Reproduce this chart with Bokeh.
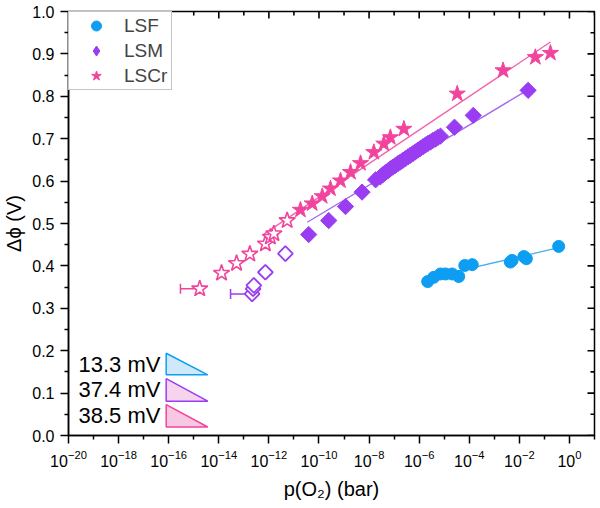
import numpy as np
from bokeh.plotting import figure
from bokeh.models import (ColumnDataSource, FixedTicker, Legend, LegendItem,
                          Label, Whisker, TeeHead, PrintfTickFormatter, Range1d)
from bokeh.embed import file_html
from bokeh.resources import INLINE

# ---------------- data (log10 of pO2 in bar, potential difference in V) ----------------
lsf_logp = [-5.66, -5.42, -5.15, -4.95, -4.68, -4.42, -4.18, -3.88, -2.36, -2.29, -1.82, -1.72, -0.43]
lsf_dphi = [0.363, 0.373, 0.381, 0.381, 0.381, 0.375, 0.401, 0.403, 0.409, 0.413, 0.422, 0.417, 0.446]

lsm_open_logp = [-12.67, -12.63, -12.60, -12.14, -11.34]
lsm_open_dphi = [0.334, 0.346, 0.354, 0.385, 0.429]
lsm_logp = [-10.41, -9.61, -8.94, -8.28, -7.74,
            -7.55, -7.45, -7.35, -7.25, -7.15, -7.05, -6.95, -6.85, -6.75, -6.65,
            -6.55, -6.45, -6.35, -6.25, -6.15, -6.05, -5.95, -5.85, -5.75, -5.65,
            -5.55, -5.45, -5.35, -5.25, -5.15,
            -4.59, -3.84, -1.65]
lsm_dphi = [0.474, 0.507, 0.540, 0.574, 0.603,
            0.610, 0.615, 0.620, 0.624, 0.629, 0.633, 0.637, 0.641, 0.645, 0.649,
            0.653, 0.657, 0.661, 0.665, 0.669, 0.673, 0.677, 0.681, 0.685, 0.689,
            0.692, 0.696, 0.699, 0.703, 0.706,
            0.727, 0.755, 0.814]

lscr_open_logp = [-14.76, -13.89, -13.29, -12.76, -12.14, -11.94, -11.80, -11.27]
lscr_open_dphi = [0.346, 0.383, 0.406, 0.428, 0.452, 0.468, 0.476, 0.507]
lscr_logp = [-10.74, -10.27, -9.87, -9.54, -9.14, -8.74, -8.34, -7.81, -7.41, -7.15, -6.61,
             -4.48, -2.65, -1.36, -0.76]
lscr_dphi = [0.532, 0.547, 0.564, 0.582, 0.601, 0.621, 0.642, 0.668, 0.688, 0.703, 0.723,
             0.806, 0.861, 0.892, 0.902]

# fitted lines (end points)
lsf_fit_logp = [-5.66, -0.43]
lsf_fit_dphi = [0.371, 0.443]
lsm_fit_logp = [-10.47, -1.69]
lsm_fit_dphi = [0.503, 0.814]
lscr_fit_logp = [-12.2, -0.76]
lscr_fit_dphi = [0.475, 0.928]

# left-side x error bars (log10 of the lower end)
lscr_err_low = -15.53
lsm_err_low = -13.53

series_names = ["LSF", "LSM", "LSCr"]
slope_mV = [13.3, 37.4, 38.5]

x_min_exp, x_max_exp = -20, 1
x_major_exp = list(range(-20, 1, 2))
x_minor_exp = list(range(-19, 2, 2))
y_major = [0.0, 0.1, 0.2, 0.3, 0.4, 0.5, 0.6, 0.7, 0.8, 0.9, 1.0]
y_minor = [0.05, 0.15, 0.25, 0.35, 0.45, 0.55, 0.65, 0.75, 0.85, 0.95]

# ---------------- style ----------------
FONT = "Liberation Sans"
BLUE = "#0d9ef3"
PURPLE = "#9a3df2"
PINK = "#f2449d"
BLUE_L = "#45b2f2"
PURPLE_L = "#a566f0"
PINK_L = "#f462ad"

x_lo, x_hi = 10.0 ** x_min_exp, 10.0 ** x_max_exp
p = figure(width=600, height=508, x_axis_type="log",
           x_range=Range1d(x_lo, x_hi), y_range=Range1d(0, 1),
           output_backend="svg", toolbar_location=None,
           min_border_left=68, min_border_right=6, min_border_top=11, min_border_bottom=73)
p.xgrid.visible = False
p.ygrid.visible = False
p.outline_line_color = "black"
p.outline_line_width = 1.5
p.background_fill_color = "white"
p.border_fill_color = "white"

x_ticks = [10.0 ** k for k in x_major_exp]
x_mticks = [10.0 ** k for k in x_minor_exp]
xt = FixedTicker(ticks=x_ticks, minor_ticks=x_mticks)
yt = FixedTicker(ticks=y_major, minor_ticks=y_minor)

for ax in p.xaxis:
    ax.ticker = xt
    ax.axis_label = "p(O\u2082) (bar)"
for ax in p.yaxis:
    ax.ticker = yt
    ax.formatter = PrintfTickFormatter(format="%.1f")
    ax.axis_label = "\u0394\u03d5 (V)"

for ax in list(p.xaxis) + list(p.yaxis):
    ax.axis_line_width = 1.5
    ax.major_tick_line_width = 1.5
    ax.minor_tick_line_width = 1.5
    ax.major_tick_out = 8
    ax.major_tick_in = 0
    ax.minor_tick_out = 4
    ax.minor_tick_in = 0
    ax.major_label_text_font = FONT
    ax.major_label_text_font_size = "16px"
    ax.major_label_text_color = "black"
    ax.axis_label_text_font = FONT
    ax.axis_label_text_font_size = "20px"
    ax.axis_label_text_font_style = "normal"
    ax.axis_label_text_color = "black"
p.xaxis.major_label_standoff = 6
p.xaxis.axis_label_standoff = 8
p.yaxis.major_label_standoff = 6
p.yaxis.axis_label_standoff = 4

# mirrored inward ticks on the top and right frame edges
p.ray(x=x_ticks, y=[1.0] * len(x_ticks), length=7, length_units="screen", angle=-np.pi / 2,
      line_color="black", line_width=1.6)
p.ray(x=x_mticks, y=[1.0] * len(x_mticks), length=4, length_units="screen", angle=-np.pi / 2,
      line_color="black", line_width=1.6)
p.ray(x=[x_hi] * len(y_major), y=y_major, length=7, length_units="screen", angle=np.pi,
      line_color="black", line_width=1.6)
p.ray(x=[x_hi] * len(y_minor), y=y_minor, length=4, length_units="screen", angle=np.pi,
      line_color="black", line_width=1.6)


def pw(lst):
    return [10.0 ** v for v in lst]


# fit lines
p.line(pw(lsf_fit_logp), lsf_fit_dphi, line_color=BLUE_L, line_width=1.3)
p.line(pw(lsm_fit_logp), lsm_fit_dphi, line_color=PURPLE_L, line_width=1.3)
p.line(pw(lscr_fit_logp), lscr_fit_dphi, line_color=PINK_L, line_width=1.3)

# error bars
eb_cr = ColumnDataSource(dict(y=[lscr_open_dphi[0]], lo=[10.0 ** lscr_err_low], hi=[10.0 ** lscr_open_logp[0]]))
eb_m = ColumnDataSource(dict(y=[lsm_open_dphi[0]], lo=[10.0 ** lsm_err_low], hi=[10.0 ** lsm_open_logp[0]]))
p.add_layout(Whisker(source=eb_cr, base="y", lower="lo", upper="hi", dimension="width",
                     line_color=PINK, line_width=1.5, upper_head=None,
                     lower_head=TeeHead(size=10, line_color=PINK, line_width=1.5)))
p.add_layout(Whisker(source=eb_m, base="y", lower="lo", upper="hi", dimension="width",
                     line_color=PURPLE, line_width=1.5, upper_head=None,
                     lower_head=TeeHead(size=10, line_color=PURPLE, line_width=1.5)))

# markers
r_lsf = p.scatter(pw(lsf_logp), lsf_dphi, marker="circle", size=12, fill_color=BLUE, line_color=BLUE)
p.scatter(pw(lsm_open_logp), lsm_open_dphi, marker="square", angle=np.pi / 4, size=10.5,
          fill_color="white", line_color=PURPLE, line_width=1.8)
p.scatter(pw(lsm_logp), lsm_dphi, marker="square", angle=np.pi / 4, size=11.5,
          fill_color=PURPLE, line_color=PURPLE)
p.scatter(pw(lscr_open_logp), lscr_open_dphi, marker="star", size=17,
          fill_color="white", line_color=PINK, line_width=1.6)
r_lscr = p.scatter(pw(lscr_logp), lscr_dphi, marker="star", size=17, fill_color=PINK, line_color=PINK)
r_lsm_leg = p.scatter(pw(lsm_logp[:1]), lsm_dphi[:1], marker="diamond", size=14,
                      fill_color=PURPLE, line_color=PURPLE, visible=False)

legend = Legend(items=[LegendItem(label=series_names[0], renderers=[r_lsf]),
                       LegendItem(label=series_names[1], renderers=[r_lsm_leg]),
                       LegendItem(label=series_names[2], renderers=[r_lscr])],
                location="top_left", margin=0, padding=1, spacing=0,
                glyph_width=52, glyph_height=25, label_height=25, label_width=46, label_standoff=2,
                label_text_font=FONT, label_text_font_size="19px",
                border_line_color="#8a8a8a", border_line_width=1, background_fill_color="white",
                background_fill_alpha=1)
p.add_layout(legend)

# slope annotations (icons)
tri_colors = [(BLUE, "#cfe9fa"), (PURPLE, "#f6d4ee"), (PINK, "#f8c8e2")]
tri_top = [0.194, 0.134, 0.073]
tri_bot = [0.143, 0.081, 0.020]
tri_left, tri_right = 10.0 ** -16.1, 10.0 ** -14.44
for i in range(3):
    p.patch([tri_left, tri_left, tri_right], [tri_top[i], tri_bot[i], tri_bot[i]],
            fill_color=tri_colors[i][1], line_color=tri_colors[i][0], line_width=1.5)
    p.add_layout(Label(x=10.0 ** -16.33, y=(tri_top[i] + tri_bot[i]) / 2, text=f"{slope_mV[i]} mV",
                       text_align="right", text_baseline="middle", text_font=FONT,
                       text_font_size="22px", text_color="black"))

open("out.html", "w").write(file_html(p, INLINE))
